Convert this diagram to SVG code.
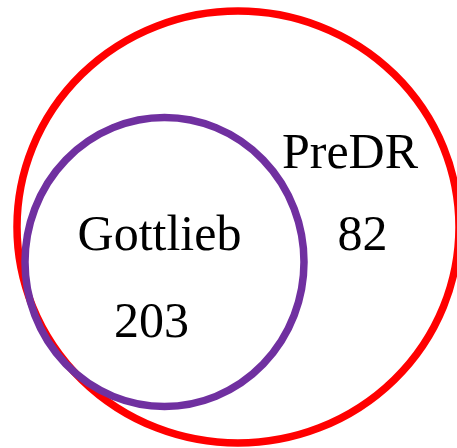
<svg xmlns="http://www.w3.org/2000/svg" width="457" height="448" viewBox="0 0 457 448">
  <style>
    .set { fill: none; stroke-width: 7.5; }
    .label { font-family: "Liberation Serif", "Times New Roman", serif; font-size: 50px; fill: #000; text-anchor: middle; }
  </style>
  <rect width="457" height="448" fill="#fff"/>
  <g id="predr">
    <ellipse class="set" cx="238" cy="227" rx="221" ry="216" stroke="#ff0000"/>
    <text class="label" x="350" y="168">PreDR</text>
    <text class="label" x="362.5" y="250">82</text>
  </g>
  <g id="gottlieb">
    <ellipse class="set" cx="164.5" cy="262" rx="139.5" ry="144.5" stroke="#7030a0"/>
    <text class="label" x="159.5" y="250">Gottlieb</text>
    <text class="label" x="151.5" y="337">203</text>
  </g>
  <g id="connectors"/>
</svg>
